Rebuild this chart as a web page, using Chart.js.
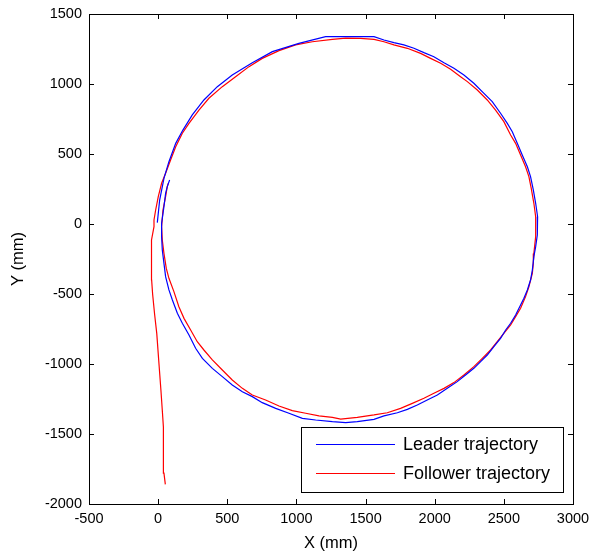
<!DOCTYPE html>
<html>
<head>
<meta charset="utf-8">
<script src="https://cdn.jsdelivr.net/npm/chart.js@4"></script>
<style>
    html, body { margin: 0; padding: 0; background: #fff; }
    #wrap { width: 590px; height: 559px; }
</style>
</head>
<body>
<div id="wrap"><canvas id="traj_chart" width="590" height="559"></canvas></div>
<script>
// axis ticks
const xTicks = [-500, 0, 500, 1000, 1500, 2000, 2500, 3000];
const yTicks = [-2000, -1500, -1000, -500, 0, 500, 1000, 1500];

// leader path (mm), starts near origin and goes round clockwise
const leaderX = [-6, 11, 42, 78, 127, 179, 247, 331, 428, 536, 681, 826, 1018, 1211, 1320, 1440, 1561,
    1633, 1705, 1777, 1850, 1922, 1994, 2067, 2139, 2211, 2283, 2356, 2416, 2476, 2525, 2561, 2597, 2633, 2670, 2693, 2713, 2730, 2744,
    2742, 2730, 2717, 2706, 2693, 2670, 2645, 2621, 2585, 2549, 2513, 2476, 2428, 2380, 2332, 2283, 2223, 2163, 2091, 2019, 1946, 1874,
    1802, 1730, 1633, 1561, 1440, 1356, 1260, 1139, 1043, 946, 850, 753, 681, 609, 536, 464, 392, 320, 271, 223, 175, 139, 103, 78,
    54, 42, 30, 25, 25, 42, 54, 66, 83];
const leaderY = [10, 171, 326, 445, 576, 671, 779, 886, 981, 1064, 1152, 1231, 1290, 1338, 1338, 1338, 1338,
    1314, 1295, 1279, 1255, 1224, 1195, 1152, 1112, 1064, 1005, 933, 874, 791, 719, 659, 576, 493, 409, 338, 243, 148, 52,
    -79, -162, -233, -329, -400, -471, -531, -579, -650, -709, -757, -817, -876, -936, -983, -1031, -1079, -1126, -1174, -1221, -1257, -1293,
    -1324, -1348, -1371, -1395, -1412, -1419, -1412, -1400, -1388, -1352, -1317, -1276, -1233, -1198, -1150, -1090, -1031, -960, -888, -793, -709, -638, -543, -471,
    -376, -281, -186, -90, 5, 124, 219, 267, 314];

// follower path (mm), comes up from the bottom and joins the circle
const followerX = [52, 42, 38, 30, 20, 4, -10, -25, -40, -47, -48, -30, -30, -18, 1, 25, 54, 90, 127, 175, 223, 295, 367, 464, 560,
    657, 753, 874, 994, 1115, 1260, 1356, 1464, 1561, 1633, 1705, 1802, 1898, 1970, 2043, 2115, 2187, 2236, 2308, 2380, 2440, 2500,
    2549, 2585, 2621, 2657, 2681, 2698, 2717, 2730, 2730, 2730, 2717, 2713, 2706, 2681, 2657, 2621, 2585, 2549, 2500, 2452, 2404, 2344,
    2283, 2211, 2139, 2067, 1994, 1922, 1838, 1753, 1657, 1561, 1440, 1320, 1260, 1163, 1067, 970, 874, 777, 681, 609, 536, 464, 392,
    331, 283, 235, 187, 150, 114, 78, 59, 42, 30, 25, 35, 54, 66, 73];
const followerY = [-1860, -1780, -1450, -1330, -1186, -971, -781, -650, -500, -400, -114, -19, 29, 100, 195, 291, 362, 457, 552, 648, 719, 814, 898, 981, 1052,
    1124, 1183, 1238, 1279, 1302, 1319, 1328, 1326, 1319, 1302, 1279, 1255, 1219, 1183, 1148, 1105, 1052, 1017, 957, 886, 814, 731,
    636, 576, 493, 409, 338, 255, 148, 52, -43, -90, -210, -281, -352, -448, -519, -602, -662, -721, -781, -841, -900, -960,
    -1019, -1079, -1133, -1174, -1209, -1245, -1281, -1317, -1348, -1364, -1381, -1393, -1381, -1371, -1352, -1333, -1300, -1257, -1221, -1174, -1114, -1043, -971,
    -900, -841, -757, -674, -591, -483, -388, -317, -210, -114, -19, 100, 195, 267, 290];

function toPoints(xs, ys) {
    let pts = [];
    for (let i = 0; i < xs.length; i++) {
        pts.push({ x: xs[i], y: ys[i] });
    }
    return pts;
}

const FONT = "'Liberation Sans', Arial, sans-serif";

// box round the plot, inward ticks on all four sides, legend in the corner
const framePlugin = {
    id: 'frame',
    afterDraw(chart) {
        const ctx = chart.ctx;
        const a = chart.chartArea;
        const xs = chart.scales.x;
        const ys = chart.scales.y;
        const tl = 5;
        ctx.save();
        ctx.strokeStyle = '#000';
        ctx.lineWidth = 1;
        ctx.beginPath();
        xs.ticks.forEach(function (t) {
            let px = Math.round(xs.getPixelForValue(t.value)) + 0.5;
            ctx.moveTo(px, a.bottom);
            ctx.lineTo(px, a.bottom - tl);
            ctx.moveTo(px, a.top);
            ctx.lineTo(px, a.top + tl);
        });
        ys.ticks.forEach(function (t) {
            let py = Math.round(ys.getPixelForValue(t.value)) + 0.5;
            ctx.moveTo(a.left, py);
            ctx.lineTo(a.left + tl, py);
            ctx.moveTo(a.right, py);
            ctx.lineTo(a.right - tl, py);
        });
        ctx.stroke();
        ctx.strokeRect(Math.round(a.left) + 0.5, Math.round(a.top) + 0.5,
            Math.round(a.right - a.left), Math.round(a.bottom - a.top));

        // legend box
        const bw = 262, bh = 65;
        const bx = Math.round(a.right) - 10 - bw;
        const by = Math.round(a.bottom) - 12 - bh;
        ctx.fillStyle = '#fff';
        ctx.fillRect(bx, by, bw, bh);
        ctx.strokeRect(bx + 0.5, by + 0.5, bw, bh);
        ctx.font = '18px ' + FONT;
        ctx.textBaseline = 'middle';
        ctx.textAlign = 'left';
        chart.data.datasets.forEach(function (ds, i) {
            let ly = by + 17.5 + i * 29;
            ctx.strokeStyle = ds.borderColor;
            ctx.beginPath();
            ctx.moveTo(bx + 15, ly);
            ctx.lineTo(bx + 94, ly);
            ctx.stroke();
            ctx.fillStyle = '#000';
            ctx.fillText(ds.label, bx + 102, ly + 1);
        });
        ctx.restore();
    }
};

function plain(v) {
    return String(v);
}

let ctx = document.getElementById('traj_chart');

var traj_chart = new Chart(ctx, {
    type: 'scatter',
    data: {
        datasets: [{
            label: 'Leader trajectory',
            data: toPoints(leaderX, leaderY),
            borderColor: '#0000ff',
            backgroundColor: '#0000ff',
            borderWidth: 1.2,
            showLine: true,
            pointRadius: 0,
            tension: 0
        }, {
            label: 'Follower trajectory',
            data: toPoints(followerX, followerY),
            borderColor: '#ff0000',
            backgroundColor: '#ff0000',
            borderWidth: 1.2,
            showLine: true,
            pointRadius: 0,
            tension: 0
        }]
    },
    options: {
        responsive: false,
        animation: false,
        layout: { padding: { left: 0, top: 14, right: 17, bottom: 0 } },
        plugins: {
            legend: { display: false },
            tooltip: { enabled: false }
        },
        scales: {
            x: {
                type: 'linear',
                min: -500,
                max: 3000,
                grid: { display: false, drawTicks: false },
                border: { display: false },
                afterBuildTicks: function (scale) {
                    scale.ticks = xTicks.map(function (v) { return { value: v }; });
                },
                afterFit: function (scale) {
                    scale.height = 55;
                    // end labels may spill past the plot edge
                    scale.paddingLeft = 0;
                    scale.paddingRight = 0;
                },
                ticks: {
                    padding: 6,
                    color: '#000',
                    font: { family: FONT, size: 14.5 },
                    maxRotation: 0,
                    autoSkip: false,
                    callback: plain
                },
                title: {
                    display: true,
                    text: 'X (mm)',
                    color: '#000',
                    font: { family: FONT, size: 16.5 },
                    padding: { top: 0, bottom: 6 }
                }
            },
            y: {
                type: 'linear',
                min: -2000,
                max: 1500,
                grid: { display: false, drawTicks: false },
                border: { display: false },
                afterBuildTicks: function (scale) {
                    scale.ticks = yTicks.map(function (v) { return { value: v }; });
                },
                afterFit: function (scale) {
                    scale.width = 89;
                    scale.paddingTop = 0;
                    scale.paddingBottom = 0;
                },
                ticks: {
                    padding: 7,
                    color: '#000',
                    font: { family: FONT, size: 14.5 },
                    autoSkip: false,
                    callback: plain
                },
                title: {
                    display: true,
                    text: 'Y (mm)',
                    color: '#000',
                    font: { family: FONT, size: 16.5 },
                    padding: { top: 9, bottom: 0 }
                }
            }
        }
    },
    plugins: [framePlugin]
});
</script>
</body>
</html>
